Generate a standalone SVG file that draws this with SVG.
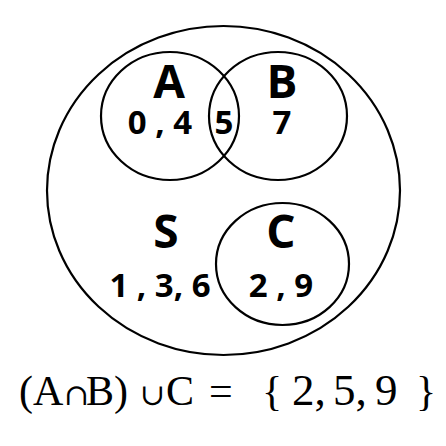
<svg xmlns="http://www.w3.org/2000/svg" width="446" height="446" viewBox="0 0 446 446">
<style>
.set{fill:none;stroke:#000;stroke-width:2.2}
.lbl{font-family:"Open Sans","Liberation Sans",sans-serif;font-weight:bold;fill:#000;text-anchor:middle}
.big{font-size:46px}
.num{font-size:33px}
.f{font-family:"Liberation Serif","Times New Roman",serif;font-size:42px;fill:#000}
.op{font-family:"DejaVu Serif","Liberation Serif",serif;font-size:30px}
.d{font-size:45px}
</style>
<rect width="446" height="446" fill="#fff"/>
<g id="S">
<ellipse class="set" cx="223.5" cy="190.5" rx="176.5" ry="164.5"/>
<text class="lbl big" x="166" y="248">S</text>
<text class="lbl num" x="160" y="297">1 , 3, 6</text>
</g>
<g id="A">
<ellipse class="set" cx="170" cy="116" rx="69" ry="64"/>
<text class="lbl big" x="169" y="98">A</text>
<text class="lbl num" x="160" y="134">0 , 4</text>
</g>
<g id="B">
<ellipse class="set" cx="278" cy="116" rx="69" ry="64"/>
<text class="lbl big" x="282" y="98">B</text>
<text class="lbl num" x="282" y="134">7</text>
</g>
<g id="AB">
<text class="lbl num" x="224" y="134">5</text>
</g>
<g id="C">
<ellipse class="set" cx="282.5" cy="264" rx="66.5" ry="61"/>
<text class="lbl big" x="281" y="248">C</text>
<text class="lbl num" x="281" y="297">2 , 9</text>
</g>
<g id="connectors"></g>
<g id="formula">
<text class="f" y="405"><tspan x="19">(A</tspan><tspan class="op" x="64">∩</tspan><tspan x="86">B)</tspan><tspan class="op" x="140" font-size="26px">∪</tspan><tspan x="166">C</tspan><tspan x="209">=</tspan><tspan x="262">{</tspan><tspan class="d" x="292">2,</tspan><tspan class="d" x="333">5,</tspan><tspan class="d" x="375">9</tspan><tspan x="416">}</tspan></text>
</g>
</svg>
